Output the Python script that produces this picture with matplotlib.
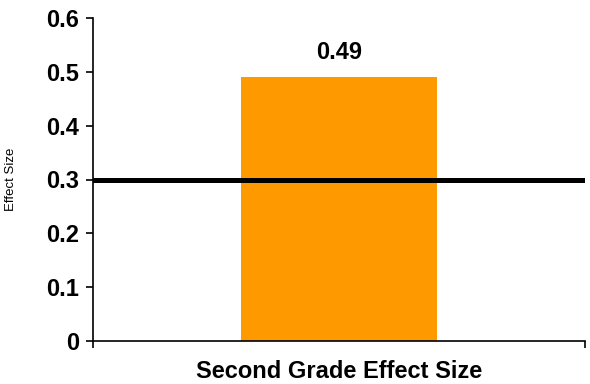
import numpy as np
import matplotlib.pyplot as plt

# chart values
categories = ['Second Grade Effect Size']
effect_sizes = [0.49]
threshold = 0.3
yticks = [0, 0.1, 0.2, 0.3, 0.4, 0.5, 0.6]
ytick_labels = ['0', '0.1', '0.2', '0.3', '0.4', '0.5', '0.6']

plt.rcParams['font.family'] = ['Liberation Sans', 'DejaVu Sans']

fig = plt.figure(figsize=(5.9, 3.84), dpi=100)
ax = fig.add_axes([93 / 590, 1 - 341 / 384, (585 - 93) / 590, (341 - 18) / 384])

x = np.arange(len(categories))
bars = ax.bar(x, effect_sizes, width=0.4, color='#FF9900', zorder=2)
for b, v in zip(bars, effect_sizes):
    ax.text(b.get_x() + b.get_width() / 2, v + 0.025, f'{v:.2f}',
            ha='center', va='bottom', fontsize=17, fontweight='bold')

ax.axhline(threshold, color='black', linewidth=3.6, zorder=3)

ax.set_xlim(-0.5, 0.5)
ax.set_ylim(0, 0.6)
ax.set_yticks(yticks)
ax.set_yticklabels(ytick_labels, fontsize=17, fontweight='bold')
ax.set_xticks([-0.5, 0.5])
ax.set_xticklabels(['', ''])
ax.tick_params(axis='both', direction='out', length=5, width=1.2, pad=5)
ax.spines['top'].set_visible(False)
ax.spines['right'].set_visible(False)
ax.spines['left'].set_linewidth(1.2)
ax.spines['bottom'].set_linewidth(1.2)

ax.set_xlabel(categories[0], fontsize=17, fontweight='bold', va='baseline')
ax.xaxis.set_label_coords(0.5, -37 / 323)
ax.set_ylabel('Effect Size', fontsize=9.5)
ax.yaxis.set_label_coords(-76 / 492, 0.5)

fig.savefig('out.png', dpi=100)
